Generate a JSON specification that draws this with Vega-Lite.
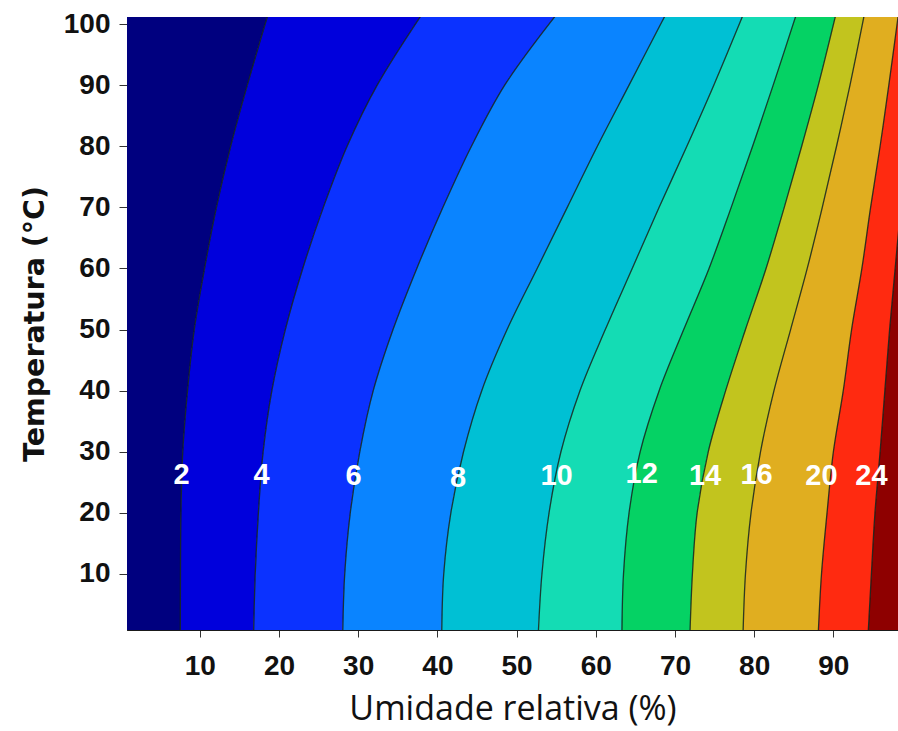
{
  "$schema": "https://vega.github.io/schema/vega-lite/v6.json",
  "width": 771,
  "height": 613,
  "autosize": "none",
  "padding": {"left": 127, "top": 17, "right": 0, "bottom": 101},
  "background": "white",
  "config": {
    "view": {"stroke": "#1a1a1a", "strokeWidth": 1},
    "axis": {"grid": false}
  },
  "datasets": {
    "contours": [
      {"level": 0, "T": 0.5, "x": 0}, {"level": 0, "T": 10, "x": 0}, {"level": 0, "T": 20, "x": 0}, {"level": 0, "T": 30, "x": 0}, {"level": 0, "T": 40, "x": 0}, {"level": 0, "T": 50, "x": 0}, {"level": 0, "T": 60, "x": 0}, {"level": 0, "T": 70, "x": 0}, {"level": 0, "T": 80, "x": 0}, {"level": 0, "T": 90, "x": 0}, {"level": 0, "T": 101.5, "x": 0},
      {"level": 2, "T": 0.5, "x": 7.54}, {"level": 2, "T": 10, "x": 7.56}, {"level": 2, "T": 20, "x": 7.62}, {"level": 2, "T": 30, "x": 7.85}, {"level": 2, "T": 40, "x": 8.45}, {"level": 2, "T": 50, "x": 9.3}, {"level": 2, "T": 60, "x": 10.6}, {"level": 2, "T": 70, "x": 12.1}, {"level": 2, "T": 80, "x": 13.9}, {"level": 2, "T": 90, "x": 16.0}, {"level": 2, "T": 101.5, "x": 18.6},
      {"level": 4, "T": 0.5, "x": 16.8}, {"level": 4, "T": 10, "x": 17.0}, {"level": 4, "T": 20, "x": 17.4}, {"level": 4, "T": 30, "x": 18.0}, {"level": 4, "T": 40, "x": 19.1}, {"level": 4, "T": 50, "x": 20.8}, {"level": 4, "T": 60, "x": 23.0}, {"level": 4, "T": 70, "x": 25.6}, {"level": 4, "T": 80, "x": 28.6}, {"level": 4, "T": 90, "x": 32.4}, {"level": 4, "T": 101.5, "x": 38.0},
      {"level": 6, "T": 0.5, "x": 28.05}, {"level": 6, "T": 10, "x": 28.3}, {"level": 6, "T": 20, "x": 29.0}, {"level": 6, "T": 30, "x": 30.2}, {"level": 6, "T": 40, "x": 31.9}, {"level": 6, "T": 50, "x": 34.4}, {"level": 6, "T": 60, "x": 37.4}, {"level": 6, "T": 70, "x": 40.7}, {"level": 6, "T": 80, "x": 44.3}, {"level": 6, "T": 90, "x": 48.5}, {"level": 6, "T": 101.5, "x": 55.0},
      {"level": 8, "T": 0.5, "x": 40.55}, {"level": 8, "T": 10, "x": 40.8}, {"level": 8, "T": 20, "x": 41.7}, {"level": 8, "T": 30, "x": 43.3}, {"level": 8, "T": 40, "x": 45.6}, {"level": 8, "T": 50, "x": 48.8}, {"level": 8, "T": 60, "x": 52.6}, {"level": 8, "T": 70, "x": 56.4}, {"level": 8, "T": 80, "x": 60.2}, {"level": 8, "T": 90, "x": 64.2}, {"level": 8, "T": 101.5, "x": 68.8},
      {"level": 10, "T": 0.5, "x": 52.75}, {"level": 10, "T": 10, "x": 53.2}, {"level": 10, "T": 20, "x": 54.1}, {"level": 10, "T": 30, "x": 55.6}, {"level": 10, "T": 40, "x": 58.0}, {"level": 10, "T": 50, "x": 61.2}, {"level": 10, "T": 60, "x": 64.6}, {"level": 10, "T": 70, "x": 68.0}, {"level": 10, "T": 80, "x": 71.5}, {"level": 10, "T": 90, "x": 74.9}, {"level": 10, "T": 101.5, "x": 78.6},
      {"level": 12, "T": 0.5, "x": 63.3}, {"level": 12, "T": 10, "x": 63.5}, {"level": 12, "T": 20, "x": 64.2}, {"level": 12, "T": 30, "x": 65.6}, {"level": 12, "T": 40, "x": 68.0}, {"level": 12, "T": 50, "x": 71.1}, {"level": 12, "T": 60, "x": 74.3}, {"level": 12, "T": 70, "x": 77.1}, {"level": 12, "T": 80, "x": 79.8}, {"level": 12, "T": 90, "x": 82.4}, {"level": 12, "T": 101.5, "x": 85.3},
      {"level": 14, "T": 0.5, "x": 71.9}, {"level": 14, "T": 10, "x": 72.2}, {"level": 14, "T": 20, "x": 72.8}, {"level": 14, "T": 30, "x": 74.2}, {"level": 14, "T": 40, "x": 76.4}, {"level": 14, "T": 50, "x": 78.9}, {"level": 14, "T": 60, "x": 81.5}, {"level": 14, "T": 70, "x": 83.8}, {"level": 14, "T": 80, "x": 86.0}, {"level": 14, "T": 90, "x": 88.1}, {"level": 14, "T": 101.5, "x": 90.3},
      {"level": 16, "T": 0.5, "x": 78.6}, {"level": 16, "T": 10, "x": 78.9}, {"level": 16, "T": 20, "x": 79.6}, {"level": 16, "T": 30, "x": 80.8}, {"level": 16, "T": 40, "x": 82.5}, {"level": 16, "T": 50, "x": 84.6}, {"level": 16, "T": 60, "x": 86.7}, {"level": 16, "T": 70, "x": 88.6}, {"level": 16, "T": 80, "x": 90.4}, {"level": 16, "T": 90, "x": 92.1}, {"level": 16, "T": 101.5, "x": 93.9},
      {"level": 20, "T": 0.5, "x": 88.1}, {"level": 20, "T": 10, "x": 88.5}, {"level": 20, "T": 20, "x": 89.2}, {"level": 20, "T": 30, "x": 90.0}, {"level": 20, "T": 40, "x": 91.25}, {"level": 20, "T": 50, "x": 92.3}, {"level": 20, "T": 60, "x": 93.6}, {"level": 20, "T": 70, "x": 94.7}, {"level": 20, "T": 80, "x": 95.9}, {"level": 20, "T": 90, "x": 97.0}, {"level": 20, "T": 101.5, "x": 98.2},
      {"level": 24, "T": 0.5, "x": 94.4}, {"level": 24, "T": 10, "x": 94.8}, {"level": 24, "T": 20, "x": 95.25}, {"level": 24, "T": 30, "x": 95.9}, {"level": 24, "T": 40, "x": 96.5}, {"level": 24, "T": 50, "x": 97.1}, {"level": 24, "T": 60, "x": 97.8}, {"level": 24, "T": 70, "x": 98.5}, {"level": 24, "T": 80, "x": 99.2}, {"level": 24, "T": 90, "x": 99.9}, {"level": 24, "T": 101.5, "x": 100.6},
      {"level": 100, "T": 0.5, "x": 102}, {"level": 100, "T": 10, "x": 102}, {"level": 100, "T": 20, "x": 102}, {"level": 100, "T": 30, "x": 102}, {"level": 100, "T": 40, "x": 102}, {"level": 100, "T": 50, "x": 102}, {"level": 100, "T": 60, "x": 102}, {"level": 100, "T": 70, "x": 102}, {"level": 100, "T": 80, "x": 102}, {"level": 100, "T": 90, "x": 102}, {"level": 100, "T": 101.5, "x": 102}
    ],
    "labels": [
      {"label": "2", "x": 7.7, "T": 26.2},
      {"label": "4", "x": 17.8, "T": 26.2},
      {"label": "6", "x": 29.4, "T": 26.0},
      {"label": "8", "x": 42.6, "T": 25.7},
      {"label": "10", "x": 55.05, "T": 26.1},
      {"label": "12", "x": 65.8, "T": 26.3},
      {"label": "14", "x": 73.8, "T": 26.1},
      {"label": "16", "x": 80.3, "T": 26.2},
      {"label": "20", "x": 88.5, "T": 26.0},
      {"label": "24", "x": 94.8, "T": 26.1}
    ]
  },
  "encoding": {
    "y": {
      "field": "T",
      "type": "quantitative",
      "scale": {"domain": [0.835, 101.15], "nice": false, "zero": false},
      "axis": {
        "values": [10, 20, 30, 40, 50, 60, 70, 80, 90, 100],
        "title": "Temperatura (°C)",
        "titleFont": "DejaVu Sans",
        "titleFontWeight": "bold",
        "titleFontSize": 28.5,
        "titleColor": "#111111",
        "titlePadding": 14,
        "labelFont": "Liberation Sans",
        "labelFontWeight": "bold",
        "labelFontSize": 28,
        "labelColor": "#111111",
        "labelPadding": 9,
        "tickSize": 8,
        "tickColor": "#333333",
        "domainColor": "#1a1a1a"
      }
    },
    "x": {
      "field": "x",
      "type": "quantitative",
      "scale": {"domain": [0.808, 98.16], "nice": false, "zero": false},
      "axis": {
        "values": [10, 20, 30, 40, 50, 60, 70, 80, 90],
        "title": "Umidade relativa (%)",
        "titleFont": "Open Sans",
        "titleFontWeight": "normal",
        "titleFontSize": 34,
        "titleColor": "#111111",
        "titlePadding": 12,
        "labelFont": "Liberation Sans",
        "labelFontWeight": "bold",
        "labelFontSize": 28,
        "labelColor": "#111111",
        "labelPadding": 15,
        "tickSize": 7,
        "tickColor": "#333333",
        "domainColor": "#1a1a1a"
      }
    }
  },
  "layer": [
    {
      "data": {"name": "contours"},
      "transform": [
        {"window": [{"op": "lead", "field": "x", "as": "xn"}], "groupby": ["T"], "sort": [{"field": "level", "order": "ascending"}]},
        {"filter": "datum.level < 100"}
      ],
      "mark": {"type": "area", "orient": "horizontal", "clip": true, "interpolate": "catmull-rom"},
      "encoding": {
        "x2": {"field": "xn"},
        "color": {
          "field": "level",
          "type": "ordinal",
          "scale": {
            "domain": [0, 2, 4, 6, 8, 10, 12, 14, 16, 20, 24],
            "range": ["#00007f", "#0000dc", "#0b32ff", "#0a84ff", "#00c0d4", "#14dcb4", "#05d264", "#c2c41e", "#e0ae20", "#ff2a10", "#8e0000"]
          },
          "legend": null
        }
      }
    },
    {
      "data": {"name": "contours"},
      "transform": [{"filter": "datum.level > 0 && datum.level < 100"}],
      "mark": {"type": "line", "clip": true, "stroke": "#102018", "strokeWidth": 1.3, "opacity": 0.85, "interpolate": "catmull-rom"},
      "encoding": {
        "detail": {"field": "level", "type": "nominal"},
        "order": {"field": "T", "type": "quantitative"}
      }
    },
    {
      "data": {"name": "labels"},
      "mark": {"type": "text", "font": "Liberation Sans", "fontWeight": "bold", "fontSize": 29, "color": "white", "align": "center", "baseline": "middle"},
      "encoding": {
        "text": {"field": "label", "type": "nominal"}
      }
    }
  ]
}
